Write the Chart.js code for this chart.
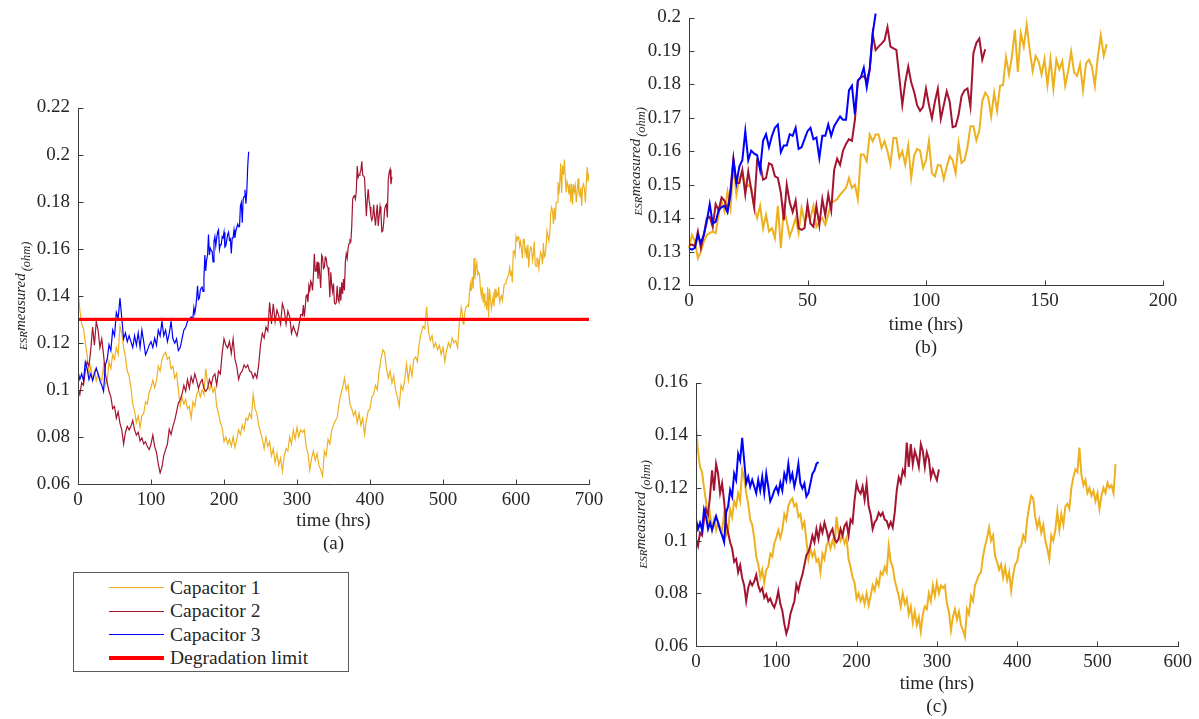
<!DOCTYPE html>
<html>
<head>
<meta charset="utf-8">
<title>Capacitor ESR degradation</title>
<script src="https://cdn.jsdelivr.net/npm/chart.js@4.4.1/dist/chart.umd.min.js"></script>
<style>
  html, body { margin: 0; padding: 0; background: #fff; }
  body { width: 1199px; height: 719px; position: relative; overflow: hidden;
         font-family: "Liberation Serif", "Times New Roman", serif; color: #262626; }
  canvas { position: absolute; }
  #legend { position: absolute; left: 73px; top: 572px; width: 276px; height: 100px;
            border: 1px solid #5a5a5a; box-sizing: border-box; background: #fff; }
  #legend .swatch { position: absolute; left: 35px; width: 55px; }
  #legend .name { position: absolute; left: 96px; font-size: 19.5px; line-height: 24px; white-space: nowrap; }
</style>
</head>
<body>
<canvas id="panelA" width="620" height="470" style="left:0;top:90px;"></canvas>
<canvas id="panelB" width="560" height="364" style="left:630px;top:0;"></canvas>
<canvas id="panelC" width="569" height="354" style="left:630px;top:365px;"></canvas>
<div id="legend"></div>

<script>
// ---- series names, colours and limit ----
const seriesNames = ['Capacitor 1', 'Capacitor 2', 'Capacitor 3'];
const seriesColors = ['#EDB120', '#A2142F', '#0000FF'];
const limitName = 'Degradation limit';
const limitColor = '#FF0000';
const degradationLimit = 0.13; // ohm

// ---- sampling ----
const beforeStepHours = 2.5;   // readings up to the limit crossing
const afterStepHours = 1.25;   // readings after the limit crossing
const crossingHours = [523.75, 305, 155];

// ---- axis ticks ----
const hoursA = [0, 100, 200, 300, 400, 500, 600, 700];
const esrA = [0.06, 0.08, 0.1, 0.12, 0.14, 0.16, 0.18, 0.2, 0.22];
const hoursB = [0, 50, 100, 150, 200];
const esrB = [0.12, 0.13, 0.14, 0.15, 0.16, 0.17, 0.18, 0.19, 0.2];
const hoursC = [0, 100, 200, 300, 400, 500, 600];
const esrC = [0.06, 0.08, 0.1, 0.12, 0.14, 0.16];

// ---- ESR (ohm) before crossing the limit, every 2.5 h from t = 0 ----
const cap1Before = [
  0.143,0.134,0.128,0.126,0.120,0.115,0.106,0.110,0.104,0.108,
  0.104,0.107,0.105,0.104,0.110,0.102,0.104,0.112,0.109,0.115,
  0.113,0.118,0.115,0.127,0.124,0.118,0.114,0.108,0.106,0.101,
  0.094,0.091,0.086,0.089,0.084,0.089,0.090,0.095,0.094,0.099,
  0.101,0.104,0.101,0.104,0.110,0.108,0.113,0.115,0.116,0.113,
  0.114,0.109,0.110,0.105,0.107,0.100,0.093,0.097,0.094,0.096,
  0.092,0.093,0.088,0.095,0.093,0.098,0.100,0.097,0.100,0.098,
  0.109,0.103,0.100,0.102,0.099,0.101,0.093,0.090,0.086,0.084,
  0.078,0.080,0.077,0.079,0.076,0.080,0.0755,0.079,0.083,0.081,
  0.085,0.083,0.088,0.087,0.090,0.088,0.098,0.092,0.090,0.085,
  0.082,0.079,0.075,0.080,0.076,0.078,0.072,0.075,0.069,0.073,
  0.068,0.071,0.0655,0.072,0.075,0.074,0.080,0.077,0.083,0.079,
  0.084,0.080,0.083,0.082,0.083,0.076,0.073,0.066,0.071,0.074,
  0.070,0.073,0.068,0.066,0.0635,0.074,0.072,0.079,0.077,0.083,
  0.085,0.087,0.088,0.094,0.098,0.101,0.105,0.100,0.102,0.094,
  0.092,0.089,0.091,0.086,0.090,0.085,0.088,0.081,0.087,0.091,
  0.092,0.097,0.098,0.102,0.100,0.108,0.113,0.117,0.116,0.109,
  0.105,0.108,0.103,0.106,0.100,0.097,0.093,0.102,0.100,0.104,
  0.111,0.104,0.110,0.106,0.113,0.114,0.112,0.120,0.124,0.127,
  0.126,0.1353,0.125,0.121,0.123,0.118,0.120,0.117,0.119,0.115,
  0.118,0.112,0.117,0.120,0.118,0.122,0.120,0.121,0.118,0.129
];
const cap2Before = [
  0.1006,0.098,0.103,0.102,0.108,0.112,0.110,0.117,0.1267,0.119,
  0.1291,0.1254,0.118,0.1217,0.115,0.1068,0.103,0.0994,0.097,0.092,
  0.093,0.088,0.0907,0.0858,0.083,0.077,0.082,0.0845,0.083,0.0845,
  0.087,0.083,0.0808,0.082,0.0783,0.0796,0.077,0.078,0.0759,0.0746,
  0.077,0.0808,0.076,0.0734,0.0684,0.0647,0.0672,0.0721,0.0746,0.077,
  0.0833,0.081,0.0845,0.087,0.0907,0.0945,0.0957,0.0982,0.1019,0.0994,
  0.1044,0.1006,0.1056,0.103,0.1068,0.104,0.1006,0.103,0.1044,0.1006,
  0.0994,0.1006,0.1044,0.102,0.1056,0.1068,0.102,0.108,0.1068,0.1155,
  0.1217,0.119,0.1178,0.1205,0.1155,0.1217,0.113,0.110,0.1044,0.107,
  0.108,0.1106,0.1094,0.1106,0.108,0.1075,0.105,0.107,0.105,0.1106,
  0.119,0.124,0.122,0.1267,0.125,0.1372,0.128,0.1366,0.129,0.134,
  0.1315,0.128,0.1366,0.134,0.128,0.1335,0.131,0.124,0.127,0.1248,0.1229,0.127
];
const cap3Before = [
  0.108,0.1044,0.1068,0.104,0.1118,0.109,0.1044,0.1068,0.104,0.1068,
  0.1093,0.1068,0.104,0.102,0.0994,0.1106,0.113,0.1192,0.1167,0.1254,
  0.123,0.1329,0.1304,0.139,0.1304,0.1217,0.1242,0.1205,0.123,0.1205,
  0.118,0.123,0.119,0.1242,0.118,0.1254,0.1205,0.1149,0.1167,0.119,
  0.1205,0.118,0.122,0.119,0.1254,0.1229,0.1291,0.123,0.1254,0.1205,
  0.124,0.1291,0.1217,0.1198,0.1217,0.1167,0.118,0.1217,0.1254,0.1266,
  0.1291,0.1298
];

// ---- ESR (ohm) after crossing the limit, every 1.25 h from the crossing ----
const cap1After = [
  0.131,0.135,0.133,0.128,0.130,0.133,0.135,0.1355,0.136,0.1355,
  0.141,0.145,0.142,0.148,0.143,0.156,0.147,0.152,0.154,0.149,
  0.150,0.149,0.143,0.140,0.1437,0.137,0.141,0.136,0.137,0.134,
  0.1437,0.131,0.143,0.139,0.1345,0.137,0.140,0.1355,0.143,0.139,
  0.141,0.140,0.1437,0.1374,0.139,0.140,0.138,0.141,0.1447,0.145,
  0.1457,0.147,0.148,0.149,0.152,0.149,0.150,0.1457,0.159,0.159,
  0.157,0.165,0.163,0.165,0.165,0.161,0.163,0.160,0.156,0.164,
  0.164,0.158,0.160,0.156,0.1617,0.152,0.1588,0.1607,0.1602,0.155,
  0.1573,0.1631,0.1534,0.1525,0.1559,0.1557,0.1517,0.1554,0.1585,0.1573,
  0.1534,0.1624,0.1565,0.1573,0.1612,0.1675,0.1675,0.1633,0.1661,0.175,
  0.1775,0.1762,0.1704,0.1775,0.1721,0.1796,0.1798,0.1882,0.183,0.1883,
  0.1963,0.1837,0.1953,0.1913,0.1979,0.1903,0.184,0.1885,0.1869,0.183,
  0.1876,0.1798,0.1876,0.1787,0.1874,0.1845,0.1869,0.1796,0.184,0.1898,
  0.1835,0.1825,0.186,0.1782,0.1862,0.1874,0.1854,0.1796,0.1883,0.1947,
  0.1885,0.192
];
const cap2After = [
  0.132,0.1321,0.1316,0.136,0.1311,0.135,0.1399,0.1404,0.1374,0.1442,
  0.1423,0.1462,0.1452,0.1423,0.1486,0.1578,0.1505,0.1505,0.1544,0.1471,
  0.154,0.1486,0.1433,0.1573,0.1564,0.1515,0.152,0.1564,0.1559,0.1525,
  0.152,0.1476,0.1394,0.150,0.1447,0.1418,0.1452,0.137,0.1365,0.137,
  0.1442,0.1384,0.1374,0.1437,0.1379,0.1457,0.1408,0.1471,0.1423,0.1544,
  0.1578,0.1559,0.1602,0.1622,0.1636,0.1631,0.1694,0.1811,0.1821,0.1825,
  0.1811,0.1845,0.1951,0.1903,0.1913,0.1922,0.1932,0.1971,0.1913,0.1908,
  0.1903,0.1821,0.1738,0.1806,0.1853,0.1806,0.1777,0.1738,0.1721,0.1733,
  0.1787,0.1738,0.1699,0.1748,0.1787,0.1697,0.1738,0.1779,0.1748,0.1672,
  0.1675,0.1709,0.1765,0.1782,0.1788,0.1733,0.1893,0.1924,0.1937,0.1874,
  0.1905
];
const cap3After = [
  0.131,0.1306,0.1311,0.135,0.1326,0.135,0.139,0.1442,0.1384,0.1389,
  0.1423,0.1433,0.1437,0.1418,0.1471,0.1573,0.1505,0.1554,0.1573,0.166,
  0.1573,0.1602,0.1593,0.1588,0.1544,0.1631,0.1651,0.1612,0.1646,0.167,
  0.168,0.1597,0.1617,0.1617,0.1651,0.1646,0.167,0.1607,0.1612,0.1636,
  0.166,0.167,0.1636,0.1641,0.158,0.1646,0.1646,0.168,0.1646,0.1675,
  0.169,0.1704,0.1694,0.1694,0.1782,0.1796,0.171,0.1811,0.1821,0.185,
  0.1791,0.1845,0.1951,0.2012
];

const beforeSets = [cap1Before, cap2Before, cap3Before];
const afterSets = [cap1After, cap2After, cap3After];

// (hour, ESR) points from evenly spaced readings
function toPoints(values, startHour, stepHours) {
  return values.map((v, i) => ({ x: startHour + i * stepHours, y: v }));
}

const FONT = '"Liberation Serif", "Times New Roman", serif';
const INK = '#262626';

function lineSet(idx, data, width, clip) {
  return {
    label: seriesNames[idx], data,
    borderColor: seriesColors[idx], backgroundColor: seriesColors[idx],
    borderWidth: width, pointRadius: 0, pointHoverRadius: 0,
    fill: false, tension: 0, order: 3 - idx,
    clip: clip
  };
}

// left/bottom axis lines with short inward tick marks
const axisFrame = {
  id: 'axisFrame',
  afterDatasetsDraw(chart) {
    const { ctx, chartArea: a, scales: { x, y } } = chart;
    ctx.save();
    ctx.strokeStyle = '#3a3a3a';
    ctx.lineWidth = 1;
    ctx.beginPath();
    const L = Math.round(a.left) + 0.5, B = Math.round(a.bottom) + 0.5;
    ctx.moveTo(L, Math.round(a.top));
    ctx.lineTo(L, B);
    ctx.lineTo(Math.round(a.right) + 1, B);
    x.ticks.forEach(t => {
      const px = Math.round(x.getPixelForValue(t.value)) + 0.5;
      ctx.moveTo(px, B); ctx.lineTo(px, B - 5);
    });
    y.ticks.forEach(t => {
      const py = Math.round(y.getPixelForValue(t.value)) + 0.5;
      ctx.moveTo(L, py); ctx.lineTo(L + 5, py);
    });
    ctx.stroke();
    ctx.restore();
  }
};

// rotated y-axis title: ESR^measured_(ohm)
const esrLabel = {
  id: 'esrLabel',
  afterDraw(chart, args, opts) {
    const { ctx, chartArea: a } = chart;
    ctx.save();
    ctx.translate(a.left - opts.offset, (a.top + a.bottom) / 2 + (opts.shiftY || 0));
    ctx.rotate(-Math.PI / 2);
    ctx.fillStyle = INK;
    ctx.textBaseline = 'alphabetic';
    const parts = [
      { t: 'ESR', f: 'italic 11px ' + FONT, dy: 0, gap: 0 },
      { t: 'measured', f: 'italic 15px ' + FONT, dy: -2, gap: 2 },
      { t: '(ohm)', f: 'italic 12.5px ' + FONT, dy: 3, gap: 0 }
    ];
    let total = 0;
    parts.forEach(p => { ctx.font = p.f; p.w = ctx.measureText(p.t).width; total += p.w + p.gap; });
    let cx = -total / 2;
    parts.forEach(p => { ctx.font = p.f; ctx.fillText(p.t, cx, p.dy); cx += p.w + p.gap; });
    ctx.restore();
  }
};

function panel(id, spec) {
  const tickFont = { family: FONT, size: 19, lineHeight: 1 };
  return new Chart(document.getElementById(id), {
    type: 'line',
    data: { datasets: spec.datasets },
    options: {
      responsive: false,
      animation: false,
      events: [],
      layout: { padding: spec.padding },
      plugins: {
        legend: { display: false },
        tooltip: { enabled: false },
        esrLabel: { offset: spec.labelOffset, shiftY: spec.labelShift }
      },
      scales: {
        x: {
          type: 'linear',
          min: spec.hours[0], max: spec.hours[spec.hours.length - 1],
          afterBuildTicks: s => { s.ticks = spec.hours.map(v => ({ value: v })); },
          afterFit: s => { s.height = spec.xAxisHeight; },
          ticks: { font: tickFont, color: INK, padding: 7, maxRotation: 0, autoSkip: false,
                   callback: v => String(v) },
          grid: { display: false, drawTicks: false },
          border: { display: false },
          title: { display: true, text: ['time (hrs)', spec.caption], color: INK,
                   font: { family: FONT, size: 19, lineHeight: '23px' },
                   padding: { top: 0, bottom: spec.titlePad } }
        },
        y: {
          type: 'linear',
          min: spec.esr[0], max: spec.esr[spec.esr.length - 1],
          afterBuildTicks: s => { s.ticks = spec.esr.map(v => ({ value: v })); },
          afterFit: s => { s.width = spec.yAxisWidth; },
          ticks: { font: tickFont, color: INK, padding: 8, autoSkip: false,
                   callback: v => String(v) },
          grid: { display: false, drawTicks: false },
          border: { display: false }
        }
      }
    },
    plugins: [axisFrame, esrLabel]
  });
}

// (a) full life of each capacitor with the degradation limit
const fullSets = [0, 1, 2].map(i => lineSet(i,
  toPoints(beforeSets[i], 0, beforeStepHours)
    .concat(toPoints(afterSets[i], crossingHours[i], afterStepHours)), 1.2, undefined));
fullSets.push({
  label: limitName,
  data: [{ x: hoursA[0], y: degradationLimit }, { x: hoursA[hoursA.length - 1], y: degradationLimit }],
  borderColor: limitColor, backgroundColor: limitColor, borderWidth: 3.2,
  pointRadius: 0, fill: false, order: 0
});
panel('panelA', {
  datasets: fullSets, hours: hoursA, esr: esrA, caption: '(a)',
  padding: { top: 15, right: 31, left: 0, bottom: 0 },
  yAxisWidth: 78, xAxisHeight: 76, titlePad: 4.5, labelOffset: 51, labelShift: 0
});

// (b) after crossing the limit, time counted from the crossing
panel('panelB', {
  datasets: [0, 1, 2].map(i => lineSet(i, toPoints(afterSets[i], 0, afterStepHours), 2, 6)),
  hours: hoursB, esr: esrB, caption: '(b)',
  padding: { top: 10, right: 27, left: 0, bottom: 0 },
  yAxisWidth: 59, xAxisHeight: 79, titlePad: 4.5, labelOffset: 47, labelShift: 10
});

// (c) before crossing the limit
panel('panelC', {
  datasets: [0, 1, 2].map(i => lineSet(i, toPoints(beforeSets[i], 0, beforeStepHours), 2, undefined)),
  hours: hoursC, esr: esrC, caption: '(c)',
  padding: { top: 12, right: 20, left: 0, bottom: 0 },
  yAxisWidth: 66, xAxisHeight: 73, titlePad: 0, labelOffset: 49, labelShift: 0
});

// legend box
const legendItems = seriesNames.map((n, i) => ({ name: n, color: seriesColors[i], width: 1.2 }))
  .concat([{ name: limitName, color: limitColor, width: 4 }]);
const legend = document.getElementById('legend');
legendItems.forEach((item, i) => {
  const cy = 14.5 + i * 23.6;
  const sw = document.createElement('div');
  sw.className = 'swatch';
  sw.style.top = (cy - item.width / 2) + 'px';
  sw.style.height = item.width + 'px';
  sw.style.background = item.color;
  const tx = document.createElement('div');
  tx.className = 'name';
  tx.style.top = (cy - 12) + 'px';
  tx.textContent = item.name;
  legend.appendChild(sw);
  legend.appendChild(tx);
});
</script>
</body>
</html>
